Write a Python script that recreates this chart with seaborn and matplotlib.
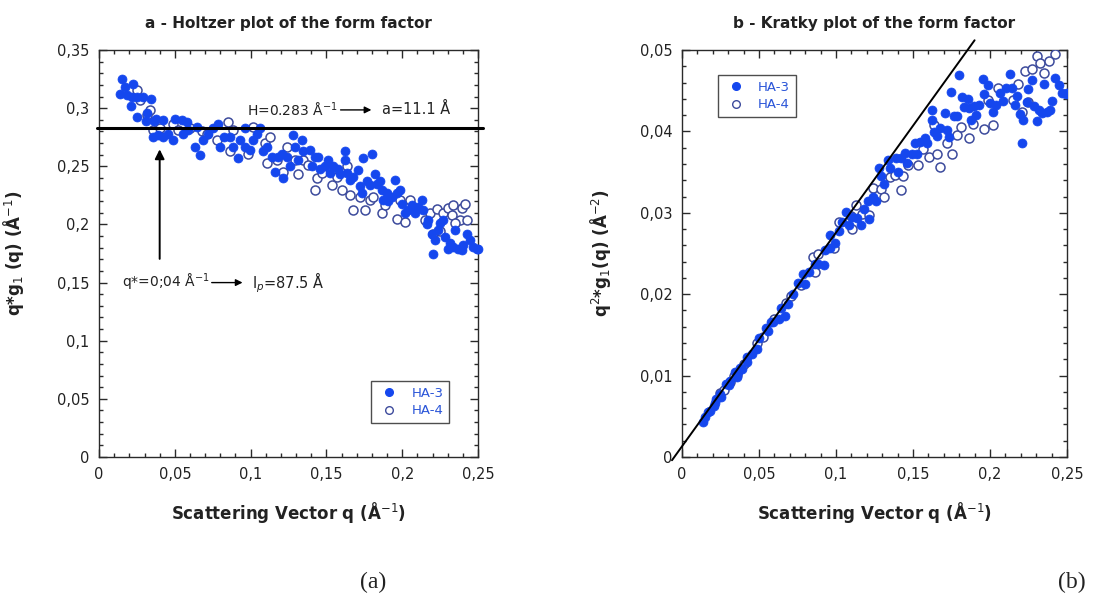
import numpy as np
import pandas as pd
import matplotlib
matplotlib.use("Agg")
import matplotlib.pyplot as plt
from matplotlib.ticker import MultipleLocator, FuncFormatter
from matplotlib.lines import Line2D
import seaborn as sns

# ---------------- data ----------------
# Holtzer plot: q*g1(q) vs q
ha3_q = [0.0152, 0.0139, 0.0172, 0.0222, 0.0183, 0.0216, 0.0209, 0.0248, 0.0288, 0.0341,
         0.0253, 0.0308, 0.0314, 0.0363, 0.0376, 0.0424, 0.0358, 0.0391, 0.0424, 0.0457,
         0.0486, 0.0501, 0.0545, 0.0578, 0.0556, 0.0589, 0.0633, 0.0666, 0.0644, 0.0688,
         0.0721, 0.0754, 0.0787, 0.0798, 0.0825, 0.0864, 0.0886, 0.0919, 0.0930, 0.0963,
         0.0963, 0.0996, 0.1018, 0.1040, 0.1062, 0.1084, 0.1106, 0.1139, 0.1161, 0.1183,
         0.1205, 0.1216, 0.1238, 0.1260, 0.1282, 0.1293, 0.1315, 0.1337, 0.1348, 0.1392,
         0.1403, 0.1425, 0.1447, 0.1458, 0.1491, 0.1513, 0.1524, 0.1546, 0.1579, 0.1590,
         0.1623, 0.1623, 0.1634, 0.1656, 0.1678, 0.1711, 0.1722, 0.1733, 0.1744, 0.1766,
         0.1788, 0.1799, 0.1821, 0.1832, 0.1854, 0.1865, 0.1876, 0.1898, 0.1909, 0.1931,
         0.1953, 0.1964, 0.1986, 0.1997, 0.2019, 0.2041, 0.2063, 0.2085, 0.2107, 0.2129,
         0.2140, 0.2162, 0.2173, 0.2195, 0.2206, 0.2217, 0.2239, 0.2250, 0.2272, 0.2283,
         0.2305, 0.2316, 0.2338, 0.2348, 0.2370, 0.2392, 0.2403, 0.2425, 0.2447, 0.2469,
         0.2491, 0.2500]
ha3_v = [0.325, 0.312, 0.318, 0.321, 0.311, 0.310, 0.302, 0.310, 0.310, 0.308,
         0.292, 0.289, 0.296, 0.289, 0.291, 0.290, 0.275, 0.277, 0.275, 0.278,
         0.273, 0.291, 0.290, 0.288, 0.278, 0.281, 0.267, 0.260, 0.284, 0.273,
         0.278, 0.283, 0.286, 0.267, 0.275, 0.275, 0.267, 0.257, 0.273, 0.267,
         0.283, 0.264, 0.273, 0.278, 0.283, 0.263, 0.267, 0.258, 0.245, 0.258,
         0.261, 0.240, 0.258, 0.250, 0.277, 0.267, 0.255, 0.273, 0.263, 0.264,
         0.250, 0.258, 0.258, 0.248, 0.250, 0.255, 0.244, 0.250, 0.248, 0.243,
         0.263, 0.255, 0.244, 0.238, 0.241, 0.247, 0.233, 0.227, 0.257, 0.237,
         0.234, 0.261, 0.243, 0.235, 0.237, 0.230, 0.221, 0.227, 0.220, 0.224,
         0.238, 0.227, 0.230, 0.218, 0.210, 0.212, 0.217, 0.210, 0.215, 0.221,
         0.212, 0.200, 0.204, 0.192, 0.175, 0.187, 0.195, 0.201, 0.204, 0.189,
         0.179, 0.184, 0.181, 0.195, 0.179, 0.178, 0.182, 0.192, 0.187, 0.181,
         0.179, 0.179]
ha4_q = [0.0249, 0.0270, 0.0336, 0.0314, 0.0358, 0.0402, 0.0490, 0.0523, 0.0600, 0.0677,
         0.0710, 0.0776, 0.0853, 0.0864, 0.0886, 0.0985, 0.1018, 0.1095, 0.1128, 0.1106,
         0.1172, 0.1216, 0.1238, 0.1293, 0.1315, 0.1348, 0.1381, 0.1425, 0.1436, 0.1469,
         0.1535, 0.1568, 0.1601, 0.1634, 0.1656, 0.1678, 0.1722, 0.1755, 0.1788, 0.1810,
         0.1865, 0.1887, 0.1964, 0.1986, 0.2019, 0.2052, 0.2151, 0.2184, 0.2206, 0.2228,
         0.2272, 0.2305, 0.2327, 0.2338, 0.2382, 0.2392, 0.2414, 0.2425, 0.2250, 0.2348]
ha4_v = [0.316, 0.307, 0.298, 0.294, 0.281, 0.283, 0.286, 0.281, 0.283, 0.280,
         0.278, 0.273, 0.288, 0.263, 0.281, 0.261, 0.284, 0.270, 0.275, 0.253,
         0.255, 0.245, 0.267, 0.255, 0.243, 0.255, 0.251, 0.230, 0.240, 0.244,
         0.234, 0.241, 0.230, 0.250, 0.225, 0.212, 0.224, 0.212, 0.221, 0.224,
         0.210, 0.217, 0.205, 0.221, 0.202, 0.221, 0.204, 0.210, 0.192, 0.213,
         0.210, 0.214, 0.208, 0.217, 0.204, 0.214, 0.218, 0.204, 0.194, 0.201]

series_names = ["HA-3", "HA-4"]
holtzer_H = 0.283            # horizontal plateau, Å^-1
qstar = 0.04                 # crossover q*
kratky_fit_q = [-0.0065, 0.190]
kratky_fit_v = [-0.0004, 0.0512]

x_ticks = [0, 0.05, 0.1, 0.15, 0.2, 0.25]
y_ticks_a = [0, 0.05, 0.1, 0.15, 0.2, 0.25, 0.3, 0.35]
y_ticks_b = [0, 0.01, 0.02, 0.03, 0.04, 0.05]

# ---------------- build tables ----------------
df = pd.concat([
    pd.DataFrame({"q": ha3_q, "h": ha3_v, "series": series_names[0]}),
    pd.DataFrame({"q": ha4_q, "h": ha4_v, "series": series_names[1]}),
], ignore_index=True)
df["k"] = df["q"] * df["h"]          # Kratky: q^2 g1 = q * (q g1)

# ---------------- style ----------------
tick_rc = {
    "xtick.direction": "in", "ytick.direction": "in",
    "xtick.top": True, "ytick.right": True, "xtick.bottom": True, "ytick.left": True,
    "xtick.major.size": 6, "ytick.major.size": 6,
    "xtick.minor.size": 3, "ytick.minor.size": 3,
    "xtick.major.width": 1, "ytick.major.width": 1,
    "xtick.minor.width": 1, "ytick.minor.width": 1,
    "xtick.minor.visible": True, "ytick.minor.visible": True,
    "xtick.color": "#2a2a2a", "ytick.color": "#2a2a2a",
    "xtick.major.pad": 7, "ytick.major.pad": 7,
}
sns.set_theme(style="ticks", rc=tick_rc)
plt.rcParams["font.family"] = ["DejaVu Sans"]

FILL = "#1547ee"
OPEN = "#3d4b9c"
TXT = "#222222"

fig = plt.figure(figsize=(11.14, 5.97), dpi=100)
axA = fig.add_axes([0.0889, 0.2345, 0.3402, 0.6817])
axB = fig.add_axes([0.6122, 0.2345, 0.3456, 0.6817])

def comma(x, pos):
    return ("%g" % round(x, 4)).replace(".", ",")

def draw_points(ax, col, clip):
    d3 = df[df.series == "HA-3"]
    d4 = df[df.series == "HA-4"]
    sns.scatterplot(x=d4["q"], y=d4[col], ax=ax, marker="o", s=42,
                    facecolors="white", edgecolor=OPEN, linewidth=1.1, legend=False,
                    clip_on=clip, zorder=3)
    sns.scatterplot(x=d3["q"], y=d3[col], ax=ax, marker="o", s=42,
                    color=FILL, edgecolor=FILL, linewidth=0.5, legend=False,
                    clip_on=clip, zorder=4)

def style_axes(ax, ymax, yminor, yticks):
    ax.set_xlim(0, 0.25)
    ax.set_ylim(0, ymax)
    ax.set_xticks(x_ticks)
    ax.set_yticks(yticks)
    ax.xaxis.set_minor_locator(MultipleLocator(0.01))
    ax.yaxis.set_minor_locator(MultipleLocator(yminor))
    ax.xaxis.set_major_formatter(FuncFormatter(comma))
    ax.yaxis.set_major_formatter(FuncFormatter(comma))
    ax.tick_params(which="both", direction="in", top=True, right=True,
                   bottom=True, left=True, color="#2a2a2a", width=1)
    ax.tick_params(which="major", length=6, pad=7, labelsize=10.5, labelcolor=TXT)
    ax.tick_params(which="minor", length=3)
    for s in ax.spines.values():
        s.set_visible(True)
        s.set_color("#2a2a2a")
        s.set_linewidth(1.0)
    ax.set_xlabel("Scattering Vector q (Å$^{-1}$)", fontsize=12, fontweight="bold",
                  labelpad=13, color=TXT)

def add_legend(ax, loc_bbox):
    handles = [
        Line2D([], [], marker="o", linestyle="", markersize=5.5, markerfacecolor=FILL,
               markeredgecolor=FILL),
        Line2D([], [], marker="o", linestyle="", markersize=5.5, markerfacecolor="white",
               markeredgecolor=OPEN, markeredgewidth=1),
    ]
    leg = ax.legend(handles, series_names, loc="upper left", bbox_to_anchor=loc_bbox,
                    borderaxespad=0, frameon=True, fancybox=False, edgecolor="#222222",
                    fontsize=9.5, handletextpad=0.8, borderpad=0.45, labelspacing=0.35,
                    handlelength=1.8)
    leg.get_frame().set_linewidth(1.0)
    for t in leg.get_texts():
        t.set_color("#2a55d8")

# ---------------- panel a ----------------
draw_points(axA, "h", False)
style_axes(axA, 0.35, 0.01, y_ticks_a)
axA.set_ylabel("q*g$_1$ (q) (Å$^{-1}$)", fontsize=12, fontweight="bold", color=TXT, labelpad=22)
axA.set_title("a - Holtzer plot of the form factor", fontsize=11, fontweight="bold",
              color=TXT, pad=16)
axA.axhline(holtzer_H, xmin=-0.006, xmax=1.014, color="black", lw=2.2, clip_on=False, zorder=5)
axA.text(0.0976, 0.2985, "H=0.283 Å$^{-1}$", fontsize=10, color=TXT, va="center", ha="left")
axA.annotate("", xy=(0.1815, 0.2985), xytext=(0.1575, 0.2985),
             arrowprops=dict(arrowstyle="-|>", color="black", lw=1, mutation_scale=10))
axA.text(0.1865, 0.2985, "a=11.1 Å", fontsize=10.5, color=TXT, va="center", ha="left")
axA.annotate("", xy=(qstar, 0.267), xytext=(qstar, 0.168),
             arrowprops=dict(arrowstyle="-|>", color="black", lw=1.4, mutation_scale=14))
axA.text(0.0150, 0.150, "q*=0;04 Å$^{-1}$", fontsize=10, color=TXT, va="center", ha="left")
axA.annotate("", xy=(0.0965, 0.150), xytext=(0.0725, 0.150),
             arrowprops=dict(arrowstyle="-|>", color="black", lw=1, mutation_scale=10))
axA.text(0.1010, 0.150, "l$_p$=87.5 Å", fontsize=10.5, color=TXT, va="center", ha="left")
add_legend(axA, (0.718, 0.187))

# ---------------- panel b ----------------
draw_points(axB, "k", True)
sns.lineplot(x=kratky_fit_q, y=kratky_fit_v, ax=axB, color="black", lw=1.4,
             clip_on=False, zorder=5)
style_axes(axB, 0.05, 0.002, y_ticks_b)
axB.set_ylabel("q$^2$*g$_1$(q) (Å$^{-2}$)", fontsize=12, fontweight="bold", color=TXT, labelpad=19)
axB.set_title("b - Kratky plot of the form factor", fontsize=11, fontweight="bold",
              color=TXT, pad=16)
add_legend(axB, (0.0935, 0.939))

fig.text(373 / 1114, 1 - 582 / 597, "(a)", fontsize=17, family="Liberation Serif",
         ha="center", va="center", color=TXT)
fig.text(1072 / 1114, 1 - 582 / 597, "(b)", fontsize=17, family="Liberation Serif",
         ha="center", va="center", color=TXT)

fig.savefig("out.png", dpi=100)
